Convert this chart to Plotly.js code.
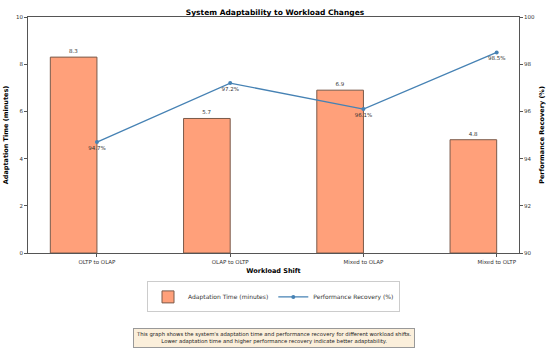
<!DOCTYPE html>
<html><head><meta charset="utf-8">
<script src="https://cdn.plot.ly/plotly-3.0.1.min.js"></script>
<style>body{margin:0;padding:0;background:#fff}#chart{width:550px;height:351px}</style>
</head><body><div id="chart"></div>
<script>
const categories = ["OLTP to OLAP", "OLAP to OLTP", "Mixed to OLAP", "Mixed to OLTP"];
const adaptationTime = [8.3, 5.7, 6.9, 4.8];
const performanceRecovery = [94.7, 97.2, 96.1, 98.5];
const positions = categories.map((c, i) => i);

const F = "DejaVu Sans, sans-serif";
const traces = [
  {
    type: "bar", name: "Adaptation Time (minutes)",
    x: positions, y: adaptationTime,
    offset: -0.35, width: 0.35,
    marker: {color: "#FFA07A", line: {color: "#7a5a4a", width: 1}},
    text: adaptationTime.map(v => v.toFixed(1)),
    textposition: "outside", cliponaxis: false,
    textfont: {family: F, size: 5.5, color: "#333"},
    yaxis: "y"
  },
  {
    type: "scatter", mode: "lines+markers+text", name: "Performance Recovery (%)",
    x: positions, y: performanceRecovery,
    line: {color: "#4682B4", width: 1.3},
    marker: {color: "#4682B4", size: 4},
    text: performanceRecovery.map(v => v.toFixed(1) + "%"),
    textposition: "bottom center",
    textfont: {family: F, size: 5.5, color: "#333"},
    yaxis: "y2"
  }
];

const layout = {
  width: 550, height: 351,
  margin: {l: 28, r: 31, t: 17, b: 98},
  paper_bgcolor: "#fff", plot_bgcolor: "#fff",
  font: {family: F, size: 5.5, color: "#333"},
  title: {text: "<b>System Adaptability to Workload Changes</b>", font: {family: F, size: 7.5, color: "#000"}, x: 0.5, xanchor: "center", y: 0.966, yanchor: "middle"},
  bargap: 0,
  xaxis: {
    range: [-0.5175, 3.1675], tickvals: positions, ticktext: categories,
    showgrid: false, zeroline: false, showline: true, linecolor: "#555", linewidth: 1, mirror: true,
    ticks: "outside", ticklen: 3, tickcolor: "#555", tickfont: {family: F, size: 5.5, color: "#333"},
    title: {text: "<b>Workload Shift</b>", font: {family: F, size: 6.5, color: "#000"}, standoff: 4}
  },
  yaxis: {
    range: [0, 10], dtick: 2, showgrid: false, zeroline: false,
    showline: true, linecolor: "#555", linewidth: 1,
    ticks: "outside", ticklen: 3, tickcolor: "#555", tickfont: {family: F, size: 5.5, color: "#333"},
    title: {text: "<b>Adaptation Time (minutes)</b>", font: {family: F, size: 6.5, color: "#000"}, standoff: 6}
  },
  yaxis2: {
    range: [90, 100], dtick: 2, overlaying: "y", side: "right", showgrid: false, zeroline: false,
    showline: true, linecolor: "#555", linewidth: 1,
    ticks: "outside", ticklen: 3, tickcolor: "#555", tickfont: {family: F, size: 5.5, color: "#333"},
    title: {text: "<b>Performance Recovery (%)</b>", font: {family: F, size: 6.5, color: "#000"}, standoff: 5}
  },
  showlegend: true,
  legend: {orientation: "h", x: 0.5, xanchor: "center", y: -0.186, yanchor: "middle",
    bordercolor: "#ccc", borderwidth: 1, font: {family: F, size: 6, color: "#333"},
    itemwidth: 30, tracegroupgap: 0},
  annotations: [{
    xref: "paper", yref: "paper", x: 0.5, y: -0.36, xanchor: "center", yanchor: "middle",
    text: "This graph shows the system's adaptation time and performance recovery for different workload shifts.<br>Lower adaptation time and higher performance recovery indicate better adaptability.",
    showarrow: false, align: "center",
    font: {family: F, size: 5.3, color: "#222"},
    bgcolor: "#fbefdb", bordercolor: "#999", borderwidth: 1, borderpad: 2
  }]
};
Plotly.newPlot("chart", traces, layout, {displayModeBar: false, staticPlot: true});
</script></body></html>
